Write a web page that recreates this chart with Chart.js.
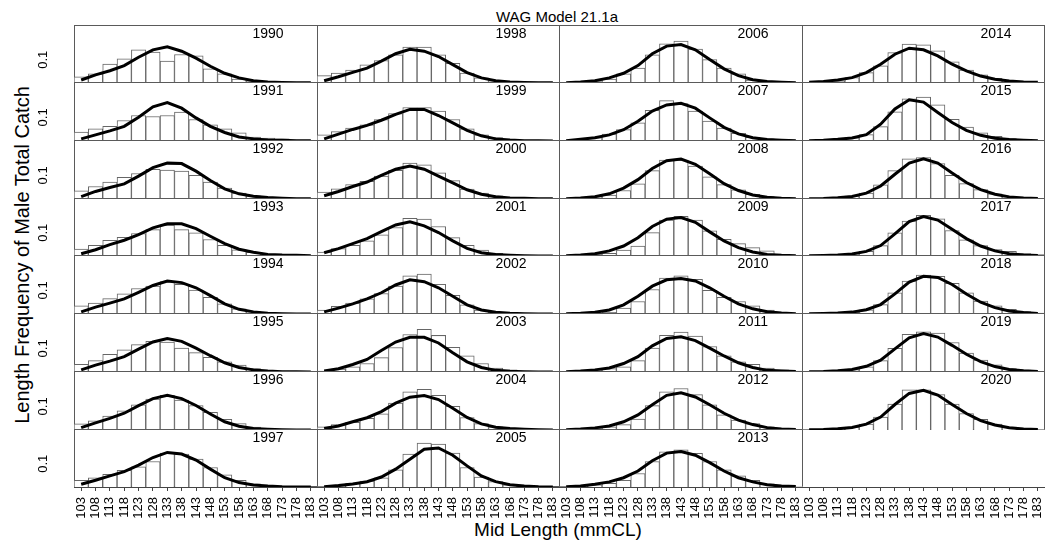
<!DOCTYPE html>
<html>
<head>
<meta charset="utf-8">
<script src="https://cdn.jsdelivr.net/npm/chart.js@4.4.1/dist/chart.umd.min.js"></script>
<style>
body{margin:0;background:#fff;}
#wrap{position:relative;width:1045px;height:544px;overflow:hidden;font-family:"Liberation Sans",Arial,sans-serif;}
#wrap canvas{position:absolute;}
.txt{position:absolute;color:#000;white-space:nowrap;transform:translate(-50%,-50%);}
</style>
</head>
<body>
<div id="wrap">
  <div class="txt" style="left:557px;top:16px;font-size:15px;">WAG Model 21.1a</div>
  <div class="txt" style="left:22px;top:255px;font-size:20px;transform:translate(-50%,-50%) rotate(-90deg);">Length Frequency of Male Total Catch</div>
  <div class="txt" style="left:558px;top:530px;font-size:19px;">Mid Length (mmCL)</div>
</div>
<script>
// mid length bins
var lengths = ["103","108","113","118","123","128","133","138","143","148","153","158","163","168","173","178","183"];
var years = [1990,1991,1992,1993,1994,1995,1996,1997,1998,1999,2000,2001,2002,2003,2004,2005,
             2006,2007,2008,2009,2010,2011,2012,2013,2014,2015,2016,2017,2018,2019,2020];

// observed proportions (bars) and model fit (line)
var obs1990 = [0.027,0.039,0.082,0.104,0.143,0.133,0.094,0.123,0.117,0.061,0.039,0.017,0.009,0.004,0.001,0,0];
var fit1990 = [0.013,0.035,0.053,0.075,0.111,0.143,0.156,0.137,0.107,0.072,0.042,0.022,0.010,0.004,0.002,0.001,0.001];
var obs1991 = [0.038,0.052,0.062,0.087,0.108,0.104,0.108,0.123,0.091,0.069,0.052,0.035,0.017,0.012,0.009,0.001,0];
var fit1991 = [0.009,0.026,0.043,0.062,0.101,0.145,0.163,0.139,0.098,0.062,0.036,0.017,0.009,0.004,0.003,0.001,0.001];
var obs1992 = [0.035,0.053,0.072,0.092,0.108,0.126,0.123,0.118,0.100,0.072,0.046,0.025,0.013,0.007,0.004,0.001,0];
var fit1992 = [0.010,0.032,0.049,0.064,0.097,0.133,0.152,0.150,0.118,0.078,0.043,0.022,0.012,0.006,0.003,0.001,0.001];
var obs1993 = [0.030,0.046,0.068,0.081,0.097,0.114,0.133,0.114,0.100,0.071,0.046,0.027,0.016,0.006,0.003,0.001,0];
var fit1993 = [0.010,0.027,0.049,0.068,0.092,0.121,0.139,0.139,0.118,0.085,0.053,0.029,0.016,0.007,0.004,0.003,0.001];
var obs1994 = [0.035,0.046,0.065,0.085,0.108,0.118,0.137,0.126,0.101,0.071,0.043,0.022,0.010,0.004,0.001,0,0];
var fit1994 = [0.009,0.029,0.046,0.064,0.092,0.121,0.140,0.133,0.111,0.078,0.043,0.020,0.009,0.003,0.001,0,0];
var obs1995 = [0.033,0.048,0.075,0.094,0.116,0.130,0.127,0.101,0.082,0.062,0.043,0.029,0.014,0.007,0.004,0.001,0];
var fit1995 = [0.009,0.029,0.046,0.065,0.097,0.127,0.142,0.130,0.101,0.069,0.039,0.019,0.009,0.004,0.001,0.001,0];
var obs1996 = [0.026,0.039,0.059,0.081,0.107,0.131,0.147,0.127,0.104,0.075,0.045,0.027,0.012,0.006,0.003,0.001,0];
var fit1996 = [0.010,0.030,0.049,0.071,0.103,0.133,0.147,0.133,0.104,0.068,0.035,0.016,0.006,0.003,0.001,0,0];
var obs1997 = [0.029,0.040,0.055,0.072,0.087,0.110,0.146,0.142,0.120,0.084,0.052,0.029,0.014,0.007,0.003,0.001,0];
var fit1997 = [0.012,0.029,0.048,0.066,0.094,0.127,0.149,0.142,0.116,0.077,0.040,0.019,0.009,0.004,0.001,0,0];
var obs1998 = [0.032,0.043,0.056,0.078,0.097,0.121,0.155,0.155,0.121,0.085,0.043,0.022,0.010,0.004,0.001,0,0];
var fit1998 = [0.010,0.027,0.046,0.064,0.094,0.126,0.145,0.137,0.114,0.079,0.045,0.022,0.010,0.004,0.002,0.001,0.001];
var obs1999 = [0.026,0.040,0.055,0.069,0.091,0.116,0.142,0.142,0.127,0.091,0.052,0.026,0.014,0.007,0.003,0,0];
var fit1999 = [0.009,0.029,0.049,0.066,0.088,0.113,0.134,0.134,0.108,0.077,0.045,0.022,0.009,0.004,0.001,0.001,0];
var obs2000 = [0.029,0.043,0.061,0.075,0.097,0.121,0.152,0.145,0.111,0.078,0.042,0.025,0.013,0.006,0.003,0,0];
var fit2000 = [0.014,0.032,0.053,0.072,0.100,0.126,0.140,0.126,0.097,0.068,0.039,0.020,0.010,0.004,0.003,0.001,0.001];
var obs2001 = [0.017,0.032,0.046,0.065,0.091,0.123,0.162,0.159,0.127,0.079,0.046,0.026,0.012,0.007,0.003,0,0];
var fit2001 = [0.014,0.032,0.053,0.075,0.105,0.134,0.147,0.130,0.101,0.065,0.033,0.014,0.006,0.003,0.001,0,0];
var obs2002 = [0.017,0.032,0.046,0.064,0.087,0.118,0.162,0.169,0.126,0.079,0.039,0.017,0.007,0.003,0.001,0,0];
var fit2002 = [0.009,0.025,0.043,0.064,0.090,0.123,0.145,0.137,0.111,0.075,0.039,0.017,0.007,0.003,0.001,0,0];
var obs2003 = [0.004,0.012,0.022,0.036,0.061,0.104,0.159,0.181,0.155,0.105,0.068,0.036,0.017,0.009,0.004,0.001,0];
var fit2003 = [0.004,0.014,0.032,0.053,0.091,0.127,0.147,0.147,0.123,0.082,0.043,0.019,0.007,0.003,0.001,0,0];
var obs2004 = [0.013,0.023,0.032,0.049,0.068,0.114,0.162,0.172,0.147,0.100,0.053,0.027,0.013,0.006,0.003,0,0];
var fit2004 = [0.006,0.017,0.035,0.052,0.078,0.114,0.139,0.146,0.129,0.092,0.053,0.026,0.012,0.006,0.003,0.001,0];
var obs2005 = [0.001,0.004,0.016,0.026,0.040,0.074,0.142,0.189,0.185,0.146,0.084,0.043,0.023,0.009,0.004,0.001,0];
var fit2005 = [0.001,0.006,0.013,0.023,0.043,0.077,0.120,0.163,0.168,0.137,0.091,0.048,0.023,0.010,0.004,0.001,0];
var obs2006 = [0.001,0.002,0.006,0.017,0.039,0.064,0.121,0.169,0.181,0.146,0.101,0.064,0.039,0.013,0.006,0.003,0.001];
var fit2006 = [0.001,0.004,0.010,0.022,0.042,0.075,0.126,0.159,0.166,0.143,0.101,0.061,0.032,0.014,0.006,0.003,0.001];
var obs2007 = [0.001,0.007,0.014,0.029,0.048,0.077,0.130,0.171,0.159,0.127,0.084,0.055,0.033,0.016,0.009,0.004,0.001];
var fit2007 = [0.001,0.007,0.014,0.026,0.048,0.084,0.127,0.153,0.160,0.139,0.098,0.058,0.030,0.014,0.006,0.003,0.001];
var obs2008 = [0.001,0.004,0.010,0.017,0.036,0.064,0.120,0.165,0.165,0.140,0.094,0.061,0.039,0.020,0.010,0.004,0.001];
var fit2008 = [0.001,0.004,0.010,0.022,0.046,0.082,0.129,0.162,0.169,0.147,0.107,0.065,0.036,0.017,0.007,0.003,0.001];
var obs2009 = [0.001,0.003,0.007,0.012,0.025,0.043,0.101,0.155,0.171,0.155,0.108,0.072,0.053,0.036,0.022,0.007,0.003];
var fit2009 = [0.001,0.004,0.010,0.022,0.043,0.079,0.127,0.159,0.166,0.145,0.104,0.065,0.036,0.017,0.007,0.003,0.001];
var obs2010 = [0.001,0.003,0.004,0.007,0.025,0.053,0.104,0.152,0.162,0.147,0.100,0.071,0.053,0.035,0.017,0.007,0.003];
var fit2010 = [0.001,0.003,0.007,0.017,0.039,0.075,0.118,0.145,0.150,0.140,0.111,0.075,0.043,0.022,0.010,0.004,0.001];
var obs2011 = [0.001,0.004,0.009,0.014,0.022,0.048,0.101,0.155,0.169,0.152,0.108,0.069,0.043,0.032,0.017,0.009,0.004];
var fit2011 = [0.001,0.004,0.009,0.017,0.036,0.065,0.111,0.142,0.149,0.133,0.101,0.068,0.039,0.019,0.007,0.004,0.002];
var obs2012 = [0.001,0.003,0.006,0.013,0.023,0.046,0.103,0.162,0.176,0.150,0.107,0.064,0.042,0.027,0.013,0.006,0.003];
var fit2012 = [0.001,0.004,0.009,0.017,0.035,0.064,0.107,0.147,0.158,0.140,0.107,0.071,0.042,0.023,0.010,0.004,0.002];
var obs2013 = [0.001,0.004,0.009,0.016,0.029,0.058,0.110,0.152,0.160,0.145,0.110,0.074,0.048,0.029,0.014,0.007,0.003];
var fit2013 = [0.001,0.004,0.012,0.022,0.040,0.069,0.113,0.146,0.153,0.137,0.105,0.069,0.040,0.022,0.010,0.004,0.002];
var obs2014 = [0.001,0.003,0.009,0.023,0.045,0.074,0.131,0.168,0.165,0.139,0.091,0.056,0.035,0.020,0.012,0.006,0.003];
var fit2014 = [0.003,0.007,0.013,0.023,0.045,0.081,0.124,0.150,0.143,0.117,0.081,0.052,0.030,0.016,0.009,0.004,0.003];
var obs2015 = [0.001,0.002,0.006,0.013,0.027,0.061,0.124,0.179,0.186,0.153,0.092,0.059,0.035,0.020,0.010,0.005,0.002];
var fit2015 = [0.001,0.003,0.007,0.013,0.027,0.071,0.136,0.175,0.165,0.121,0.078,0.045,0.024,0.012,0.006,0.003,0.001];
var obs2016 = [0.001,0.002,0.005,0.012,0.025,0.060,0.120,0.170,0.175,0.150,0.100,0.065,0.040,0.022,0.010,0.004,0.002];
var fit2016 = [0.001,0.002,0.005,0.011,0.025,0.055,0.105,0.152,0.170,0.152,0.110,0.070,0.040,0.020,0.009,0.004,0.002];
var obs2017 = [0.001,0.002,0.004,0.010,0.020,0.045,0.100,0.150,0.175,0.160,0.110,0.070,0.045,0.028,0.020,0.010,0.006];
var fit2017 = [0.001,0.002,0.004,0.009,0.020,0.045,0.095,0.148,0.170,0.155,0.115,0.075,0.043,0.022,0.010,0.004,0.002];
var obs2018 = [0.001,0.002,0.004,0.008,0.018,0.040,0.090,0.140,0.165,0.160,0.130,0.090,0.055,0.035,0.020,0.010,0.004];
var fit2018 = [0.001,0.002,0.004,0.008,0.018,0.040,0.085,0.135,0.160,0.155,0.125,0.085,0.050,0.027,0.013,0.006,0.002];
var obs2019 = [0.001,0.002,0.004,0.010,0.022,0.048,0.100,0.160,0.170,0.165,0.125,0.080,0.050,0.030,0.015,0.008,0.003];
var fit2019 = [0.001,0.002,0.005,0.011,0.024,0.050,0.098,0.145,0.163,0.148,0.113,0.075,0.044,0.023,0.011,0.005,0.002];
var obs2020 = [0.001,0.002,0.005,0.012,0.025,0.055,0.110,0.170,0.170,0.150,0.110,0.070,0.045,0.025,0.012,0.006,0.002];
var fit2020 = [0.001,0.002,0.005,0.011,0.025,0.055,0.108,0.155,0.168,0.148,0.108,0.070,0.040,0.021,0.010,0.004,0.002];

var observed = [obs1990,obs1991,obs1992,obs1993,obs1994,obs1995,obs1996,obs1997,obs1998,obs1999,obs2000,
  obs2001,obs2002,obs2003,obs2004,obs2005,obs2006,obs2007,obs2008,obs2009,obs2010,obs2011,obs2012,obs2013,
  obs2014,obs2015,obs2016,obs2017,obs2018,obs2019,obs2020];
var expected = [fit1990,fit1991,fit1992,fit1993,fit1994,fit1995,fit1996,fit1997,fit1998,fit1999,fit2000,
  fit2001,fit2002,fit2003,fit2004,fit2005,fit2006,fit2007,fit2008,fit2009,fit2010,fit2011,fit2012,fit2013,
  fit2014,fit2015,fit2016,fit2017,fit2018,fit2019,fit2020];

// panel grid (lattice style, 4 columns x 8 rows, filled column by column)
var colLeft = [74, 317, 559, 802];
var rowTop = [25, 82, 140, 198, 255, 313, 371, 429, 486];

Chart.defaults.font.family = '"Liberation Sans", Arial, sans-serif';
Chart.defaults.color = '#000';
Chart.defaults.animation = false;

var panelPlugin = {
  id: 'panel',
  beforeDatasetsDraw: function(chart, args, opts) {
    if (!opts.box) return;
    var a = chart.chartArea, ctx = chart.ctx;
    ctx.save();
    ctx.strokeStyle = '#5a5a5a';
    ctx.lineWidth = 1;
    ctx.strokeRect(a.left + 0.5, a.top + 0.5, a.right - a.left - 1, a.bottom - a.top - 1);
    ctx.restore();
  },
  afterDraw: function(chart, args, opts) {
    if (!opts.year) return;
    var a = chart.chartArea, ctx = chart.ctx;
    ctx.save();
    ctx.font = '14px "Liberation Sans", Arial, sans-serif';
    ctx.fillStyle = '#000';
    ctx.textAlign = 'center';
    ctx.textBaseline = 'middle';
    ctx.fillText(opts.year, a.left + 194, a.top + 9);
    ctx.restore();
  }
};

var wrap = document.getElementById('wrap');

function makePanel(col, row, obs, fit, year) {
  var left = colLeft[col], top = rowTop[row];
  var w = (col < 3 ? colLeft[col + 1] + 1 : 1045) - left;
  var h = rowTop[row + 1] - top + 1;
  var showX = row === 7;
  var showY = col === 0 && obs !== null;
  var extraL = showY ? 40 : 0;
  var extraB = showX ? 46 : 0;

  var cv = document.createElement('canvas');
  cv.width = w + extraL;
  cv.height = h + extraB;
  cv.style.left = (left - extraL) + 'px';
  cv.style.top = top + 'px';
  wrap.appendChild(cv);

  var datasets = [];
  if (obs) {
    datasets.push({
      type: 'line', data: fit, order: 0,
      borderColor: '#000', borderWidth: 3, pointRadius: 0, tension: 0
    });
    datasets.push({
      type: 'bar', data: obs, order: 1,
      backgroundColor: '#fff', borderColor: '#666', borderWidth: 1,
      barPercentage: 1, categoryPercentage: 1
    });
  }

  new Chart(cv, {
    type: 'bar',
    data: { labels: lengths, datasets: datasets },
    options: {
      responsive: false,
      layout: { padding: 0 },
      plugins: {
        legend: { display: false },
        tooltip: { enabled: false },
        panel: { box: obs !== null, year: year }
      },
      scales: {
        x: {
          type: 'category', offset: true, display: showX,
          grid: { display: showX, drawOnChartArea: false, offset: false, tickLength: 4, color: '#444' },
          border: { display: showX, color: '#444' },
          ticks: { autoSkip: false, minRotation: 90, maxRotation: 90, padding: 6, font: { size: 13 } },
          afterFit: function(s) {
            if (showX) s.height = extraB;
            s.paddingLeft = 0; s.paddingRight = 0;
          }
        },
        y: {
          type: 'linear', min: 0, max: 0.25, display: showY,
          grid: { display: false },
          border: { display: false },
          afterBuildTicks: function(s) { s.ticks = [{ value: 0.1 }]; },
          ticks: {
            minRotation: 90, maxRotation: 90, crossAlign: 'center', padding: 14,
            font: { size: 13 },
            callback: function(v) { return v.toFixed(1); }
          },
          afterFit: function(s) {
            if (showY) s.width = extraL;
            s.paddingTop = 0; s.paddingBottom = 0;
          }
        }
      }
    },
    plugins: [panelPlugin]
  });
}

for (var k = 0; k < years.length; k++) {
  makePanel(Math.floor(k / 8), k % 8, observed[k], expected[k], String(years[k]));
}
// empty slot at the bottom of the last column keeps only its length axis
makePanel(3, 7, null, null, null);
</script>
</body>
</html>
